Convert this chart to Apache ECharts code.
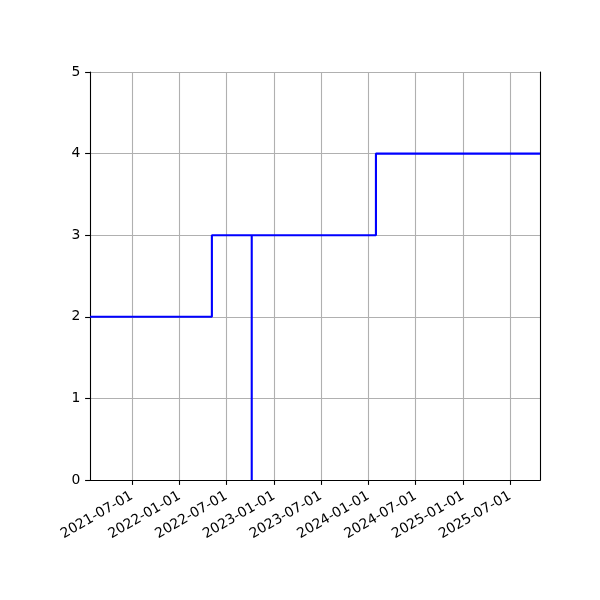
<!DOCTYPE html>
<html>
<head>
<meta charset="utf-8">
<script src="https://cdn.jsdelivr.net/npm/echarts@6/dist/echarts.min.js"></script>
<style>html,body{margin:0;padding:0;background:#fff}#c{width:600px;height:600px}</style>
</head>
<body>
<div id="c"></div>
<script>
var stepDates = ['2021-01-20','2022-05-06','2022-10-07','2022-10-07','2024-01-30','2025-10-25'];
var stepValues = [2, 3, 0, 3, 4, 4];
var xTickLabels = ['2021-07-01','2022-01-01','2022-07-01','2023-01-01','2023-07-01','2024-01-01','2024-07-01','2025-01-01','2025-07-01'];
var xRange = ['2021-01-20','2025-10-25'];
var yTicks = [0, 1, 2, 3, 4, 5];

function ts(s){ var p = s.split('-'); return Date.UTC(+p[0], +p[1]-1, +p[2]); }
var tickVals = xTickLabels.map(ts);
var data = stepDates.map(function(d,i){ return [ts(d), stepValues[i]]; });
var font = 'DejaVu Sans';
var chart = echarts.init(document.getElementById('c'));
chart.setOption({
  animation: false,
  grid: {left: 90, right: 60, top: 72, bottom: 120},
  xAxis: [{
    type: 'value', min: ts(xRange[0]), max: ts(xRange[1]),
    axisLine: {show: true, lineStyle: {color: '#000', width: 1.1}},
    axisTick: {show: true, inside: false, length: 4.9, lineStyle: {color: '#000', width: 1.1}, customValues: tickVals},
    axisLabel: {show: true, rotate: 30, margin: 15, color: '#000', fontFamily: font, fontSize: 13.9,
      customValues: tickVals,
      formatter: function(v){ var i = tickVals.indexOf(v); return i >= 0 ? xTickLabels[i] : ''; }},
    splitLine: {show: true, lineStyle: {color: '#b0b0b0', width: 1.1}}
  }, {
    type: 'value', position: 'top', min: ts(xRange[0]), max: ts(xRange[1]),
    axisLine: {show: true, lineStyle: {color: '#000', width: 1.1}},
    axisTick: {show: false}, axisLabel: {show: false}, splitLine: {show: false}
  }],
  yAxis: [{
    type: 'value', min: yTicks[0], max: yTicks[yTicks.length-1], interval: 1,
    axisLine: {show: true, lineStyle: {color: '#000', width: 1.1}},
    axisTick: {show: true, inside: false, length: 4.9, lineStyle: {color: '#000', width: 1.1}},
    axisLabel: {margin: 9.7, color: '#000', fontFamily: font, fontSize: 13.9},
    splitLine: {show: true, lineStyle: {color: '#b0b0b0', width: 1.1}}
  }, {
    type: 'value', position: 'right', min: yTicks[0], max: yTicks[yTicks.length-1], interval: 1,
    axisLine: {show: true, lineStyle: {color: '#000', width: 1.1}},
    axisTick: {show: false}, axisLabel: {show: false}, splitLine: {show: false}
  }],
  series: [{
    type: 'line', step: 'end', data: data, showSymbol: false, symbol: 'none',
    lineStyle: {color: '#0000ff', width: 2.1}, clip: true, z: 3
  }]
});
</script>
</body>
</html>
